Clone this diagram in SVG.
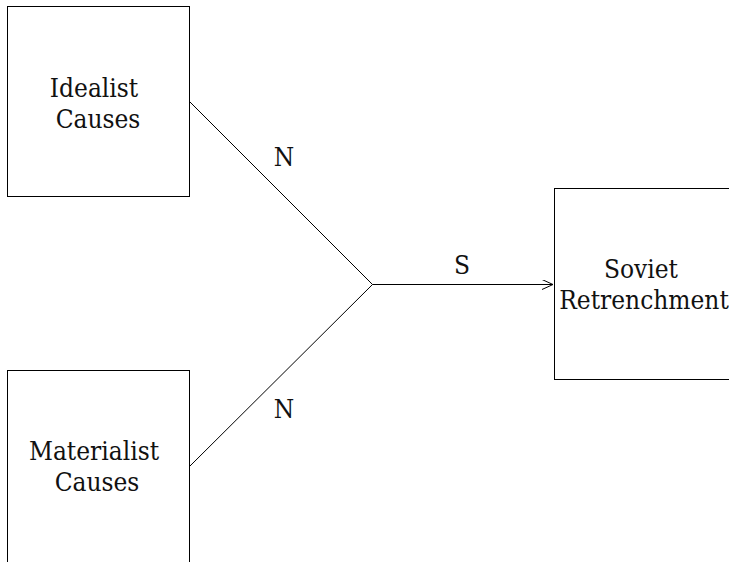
<svg xmlns="http://www.w3.org/2000/svg" width="729" height="562" viewBox="0 0 729 562">
<style>
.box{fill:#fff;stroke:#000;stroke-width:1}
.t{font-family:"DejaVu Serif Condensed","DejaVu Serif","Liberation Serif",serif;font-stretch:condensed;font-size:26px;fill:#111;text-anchor:middle}
.c{stroke:#000;stroke-width:1;fill:none}
</style>
<defs>
<marker id="ah" markerWidth="12" markerHeight="10" refX="11" refY="5" orient="auto" markerUnits="userSpaceOnUse">
<path d="M0,0 L11,5 L0,10" fill="none" stroke="#000" stroke-width="1"/>
</marker>
</defs>
<rect width="729" height="562" fill="#fff"/>
<g id="idealist">
<rect class="box" x="7.5" y="6.5" width="182" height="190"/>
<text class="t" x="94" y="97">Idealist</text>
<text class="t" x="98" y="128">Causes</text>
</g>
<g id="materialist">
<rect class="box" x="7.5" y="370.5" width="182" height="200"/>
<text class="t" x="94" y="460">Materialist</text>
<text class="t" x="97" y="491">Causes</text>
</g>
<g id="soviet">
<rect class="box" x="554.5" y="188.5" width="182" height="191"/>
<text class="t" x="641" y="278">Soviet</text>
<text class="t" x="644" y="309">Retrenchment</text>
</g>
<g id="connectors">
<path class="c" d="M190,102 L372.5,284.5 L190,466"/>
<path class="c" d="M372.5,284.5 L553,284.5" marker-end="url(#ah)"/>
<text class="t" x="284" y="166">N</text>
<text class="t" x="284" y="418">N</text>
<text class="t" x="462" y="274">S</text>
</g>
</svg>
